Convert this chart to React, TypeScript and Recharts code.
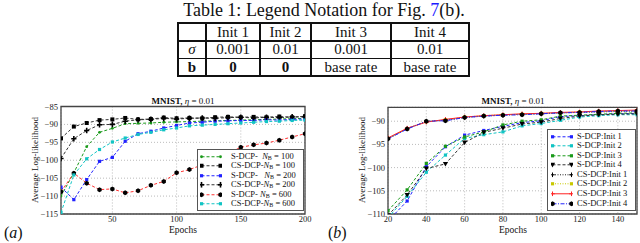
import React from "react";
import { CartesianGrid, Line, LineChart, ReferenceArea, XAxis, YAxis } from "recharts";

const FONT = '"Liberation Serif", "DejaVu Serif", serif';

// ---- table ----
const tableHeads = ["", "Init 1", "Init 2", "Init 3", "Init 4"];
const sigmaRow = ["0.001", "0.01", "0.001", "0.01"];
const biasRow = ["0", "0", "base rate", "base rate"];

// ---- panel (a) ----
const epochsA = [10, 20, 30, 40, 50, 60, 70, 80, 90, 100, 110, 120, 130, 140, 150, 160, 170, 180, 190, 200];
const sdcp100 = [-110.0, -103.5, -96.2, -92.2, -91.1, -89.8, -89.7, -89.6, -89.4, -89.3, -89.2, -89.1, -89.0, -88.9, -88.8, -88.7, -88.6, -88.5, -88.4, -88.3];
const csdcp100 = [-93.9, -90.6, -89.6, -88.8, -88.6, -88.2, -88.6, -88.5, -88.1, -88.3, -88.2, -88.3, -88.0, -87.9, -88.0, -87.9, -88.0, -87.8, -88.0, -87.7];
const sdcp200 = [-107.5, -111.0, -105.4, -100.3, -99.2, -94.7, -92.6, -91.9, -91.0, -90.3, -89.6, -89.4, -89.1, -89.0, -88.9, -88.9, -88.7, -88.8, -88.6, -88.5];
const csdcp200 = [-99.5, -94.0, -91.7, -90.1, -90.0, -89.1, -88.7, -88.6, -88.3, -88.5, -88.3, -88.2, -88.3, -88.1, -88.0, -88.2, -88.0, -88.1, -87.9, -87.9];
const sdcp600 = [-108.8, -103.6, -106.4, -108.2, -108.0, -109.1, -108.5, -107.0, -105.9, -103.5, -102.6, -101.3, -99.8, -98.0, -96.4, -95.7, -95.2, -94.4, -93.5, -92.6];
const csdcp600 = [-114.6, -104.1, -99.6, -97.0, -94.9, -93.8, -92.8, -92.2, -91.5, -91.0, -90.4, -90.2, -90.0, -89.8, -89.6, -89.4, -89.2, -89.1, -88.9, -88.8];
const xTicksA = [50, 100, 150, 200];
const yTicksA = [-115, -110, -105, -100, -95, -90, -85];

// ---- panel (b) ----
const epochsB = [20, 30, 40, 50, 60, 70, 80, 90, 100, 110, 120, 130, 140, 150];
const sInit1 = [-111.5, -107.2, -99.8, -95.5, -93.0, -92.0, -91.1, -90.3, -89.9, -89.0, -88.8, -88.6, -88.4, -88.3];
const sInit2 = [-110.8, -106.2, -101.0, -97.3, -93.7, -92.9, -92.3, -91.0, -90.5, -89.8, -89.1, -88.8, -88.6, -88.6];
const sInit3 = [-109.3, -104.8, -99.1, -95.4, -93.4, -92.3, -90.8, -90.0, -89.7, -88.9, -88.7, -88.5, -88.3, -88.2];
const sInit4 = [-110.3, -105.9, -100.2, -99.2, -94.6, -92.4, -91.5, -90.6, -90.2, -89.4, -88.9, -88.6, -88.5, -88.4];
const csInit1 = [-93.8, -91.6, -90.0, -89.8, -89.2, -88.9, -88.7, -88.5, -88.4, -88.2, -88.1, -88.0, -87.9, -87.8];
const csInit2 = [-93.7, -91.6, -90.1, -89.7, -89.1, -88.8, -88.6, -88.5, -88.3, -88.2, -88.0, -87.9, -87.8, -87.7];
const csInit3 = [-93.6, -91.5, -90.2, -89.6, -89.1, -88.8, -88.6, -88.4, -88.3, -88.1, -88.0, -87.8, -87.7, -87.6];
const csInit4 = [-93.8, -91.7, -90.0, -89.9, -89.2, -88.9, -88.7, -88.6, -88.4, -88.2, -88.1, -87.9, -87.8, -87.8];
const xTicksB = [20, 40, 60, 80, 100, 120, 140];
const yTicksB = [-110, -105, -100, -95, -90];

type Marker = "plus" | "bigplus" | "square" | "smallsq" | "dot" | "hex" | "tri";

type Series = {
  key: string;
  label: React.ReactNode;
  values: number[];
  color: string;
  dash?: string;
  marker: Marker;
  markerColor: string;
};

const nb = (prefix: string, n: number) => (
  <>
    {prefix}
    <i>N</i>
    <sub style={{ fontSize: 6, verticalAlign: "-1px", lineHeight: 0 }}>B</sub> = {n}
  </>
);

const seriesA: Series[] = [
  { key: "s100", label: nb("S-DCP-\u00a0\u00a0", 100), values: sdcp100, color: "#1a9a1a", dash: "3 2", marker: "dot", markerColor: "#1a9a1a" },
  { key: "cs100", label: nb("CS-DCP-", 100), values: csdcp100, color: "#333", dash: "3 2", marker: "square", markerColor: "#000" },
  { key: "s200", label: nb("S-DCP-\u00a0\u00a0\u00a0", 200), values: sdcp200, color: "#2222ff", dash: "3 2", marker: "smallsq", markerColor: "#2222ff" },
  { key: "cs200", label: nb("CS-DCP-", 200), values: csdcp200, color: "#333", dash: "3 2", marker: "bigplus", markerColor: "#000" },
  { key: "s600", label: nb("S-DCP-\u00a0", 600), values: sdcp600, color: "#ff3333", dash: "3 2", marker: "hex", markerColor: "#000" },
  { key: "cs600", label: nb("CS-DCP-", 600), values: csdcp600, color: "#11c4c4", dash: "3 2", marker: "smallsq", markerColor: "#11c4c4" },
];

const seriesB: Series[] = [
  { key: "s1", label: "S-DCP:Init 1", values: sInit1, color: "#2222ff", dash: "3 2", marker: "smallsq", markerColor: "#2222ff" },
  { key: "s2", label: "S-DCP:Init 2", values: sInit2, color: "#11c4c4", dash: "3 2", marker: "smallsq", markerColor: "#11c4c4" },
  { key: "s3", label: "S-DCP:Init 3", values: sInit3, color: "#1a9a1a", dash: "3 2", marker: "smallsq", markerColor: "#1a9a1a" },
  { key: "s4", label: "S-DCP:Init 4", values: sInit4, color: "#333", dash: "3 2", marker: "tri", markerColor: "#000" },
  { key: "c1", label: "CS-DCP:Init 1", values: csInit1, color: "#222", dash: "1 1.5", marker: "plus", markerColor: "#000" },
  { key: "c2", label: "CS-DCP:Init 2", values: csInit2, color: "#c8c800", dash: "1 1.5", marker: "smallsq", markerColor: "#c8c800" },
  { key: "c3", label: "CS-DCP:Init 3", values: csInit3, color: "#ff2222", marker: "plus", markerColor: "#ff2222" },
  { key: "c4", label: "CS-DCP:Init 4", values: csInit4, color: "#2222ff", dash: "4 1.5 1 1.5", marker: "hex", markerColor: "#000" },
];

function buildRows(epochs: number[], series: Series[]) {
  return epochs.map((ep, i) => {
    const row: Record<string, number> = { ep };
    series.forEach((s) => {
      row[s.key] = s.values[i];
    });
    return row;
  });
}

function markerShape(m: Marker, cx: number, cy: number, color: string, key?: string) {
  switch (m) {
    case "plus":
      return (
        <g key={key} stroke={color} strokeWidth={1}>
          <line x1={cx - 2.3} x2={cx + 2.3} y1={cy} y2={cy} />
          <line x1={cx} x2={cx} y1={cy - 2.3} y2={cy + 2.3} />
        </g>
      );
    case "bigplus":
      return (
        <g key={key} stroke={color} strokeWidth={1.6}>
          <line x1={cx - 2.6} x2={cx + 2.6} y1={cy} y2={cy} />
          <line x1={cx} x2={cx} y1={cy - 2.8} y2={cy + 2.8} />
        </g>
      );
    case "square":
      return <rect key={key} x={cx - 2} y={cy - 2} width={4} height={4} fill={color} />;
    case "smallsq":
      return <rect key={key} x={cx - 1.6} y={cy - 1.6} width={3.2} height={3.2} fill={color} />;
    case "dot":
      return <circle key={key} cx={cx} cy={cy} r={1.4} fill={color} />;
    case "hex": {
      const pts = [0, 1, 2, 3, 4, 5]
        .map((k) => {
          const a = (Math.PI / 3) * k + Math.PI / 6;
          return `${cx + 2.5 * Math.cos(a)},${cy + 2.5 * Math.sin(a)}`;
        })
        .join(" ");
      return <polygon key={key} points={pts} fill={color} />;
    }
    case "tri":
      return <polygon key={key} points={`${cx - 2.6},${cy - 2} ${cx + 2.6},${cy - 2} ${cx},${cy + 2.6}`} fill={color} />;
  }
  return <g key={key} />;
}

const minus = (v: number) => String(v).replace("-", "\u2212");
const tickStyle = { fontSize: 8.5, fill: "#222", fontFamily: FONT };

type PanelProps = {
  left: number;
  epochs: number[];
  series: Series[];
  xDomain: [number, number];
  xTicks: number[];
  yDomain: [number, number];
  yTicks: number[];
  yAxisWidth: number;
  marginTop: number;
  marginRight: number;
};

function Panel({ left, epochs, series, xDomain, xTicks, yDomain, yTicks, yAxisWidth, marginTop, marginRight }: PanelProps) {
  const data = buildRows(epochs, series);
  return (
    <div style={{ position: "absolute", left, top: 95 }}>
      <LineChart width={320} height={148} data={data} margin={{ top: marginTop, right: marginRight, bottom: 0, left: 0 }}>
        <CartesianGrid stroke="#aaa" strokeDasharray="1 2" strokeWidth={0.8} />
        <XAxis
          type="number"
          dataKey="ep"
          domain={xDomain}
          ticks={xTicks}
          allowDataOverflow
          interval={0}
          height={29}
          axisLine={false}
          tickLine={false}
          tickSize={0}
          tickMargin={2}
          tick={tickStyle}
        />
        <YAxis
          type="number"
          domain={yDomain}
          ticks={yTicks}
          allowDataOverflow
          interval={0}
          width={yAxisWidth}
          axisLine={false}
          tickLine={false}
          tickSize={0}
          tickMargin={3}
          tick={tickStyle}
          tickFormatter={minus}
        />
        {series.map((s) => (
          <Line
            key={s.key}
            type="linear"
            dataKey={s.key}
            stroke={s.color}
            strokeWidth={1}
            strokeDasharray={s.dash}
            dot={(p: any) =>
              p.cx == null ? <g key={`${s.key}-${p.index}`} /> : markerShape(s.marker, p.cx, p.cy, s.markerColor, `${s.key}-${p.index}`)
            }
            activeDot={false}
            isAnimationActive={false}
          />
        ))}
        <ReferenceArea x1={xDomain[0]} x2={xDomain[1]} y1={yDomain[0]} y2={yDomain[1]} fill="none" stroke="#444" strokeWidth={1.3} />
      </LineChart>
    </div>
  );
}

function LegendBox({ series, left, top, width, height, rowH, padTop, sampleX, textX, fontSize }: {
  series: Series[]; left: number; top: number; width: number; height: number; rowH: number; padTop: number; sampleX: number; textX: number; fontSize: number;
}) {
  return (
    <div
      style={{
        position: "absolute",
        left,
        top,
        width,
        height,
        boxSizing: "border-box",
        border: "1.3px solid #555",
        background: "#fff",
        paddingTop: padTop,
        fontFamily: FONT,
        fontSize,
        color: "#111",
        overflow: "hidden",
      }}
    >
      {series.map((s) => (
        <div key={s.key} style={{ position: "relative", height: rowH, lineHeight: `${rowH}px`, whiteSpace: "nowrap" }}>
          <svg width={22} height={rowH} style={{ position: "absolute", left: sampleX, top: 0 }}>
            <line x1={1.5} x2={20.5} y1={rowH / 2} y2={rowH / 2} stroke={s.color} strokeWidth={1} strokeDasharray={s.dash} />
            {markerShape(s.marker, 1.5, rowH / 2, s.markerColor, "a")}
            {markerShape(s.marker, 20.5, rowH / 2, s.markerColor, "b")}
          </svg>
          <span style={{ position: "absolute", left: textX, top: 0 }}>{s.label}</span>
        </div>
      ))}
    </div>
  );
}

const abs = (extra: React.CSSProperties): React.CSSProperties => ({ position: "absolute", fontFamily: FONT, color: "#111", whiteSpace: "nowrap", ...extra });

function ChartTitle({ cx }: { cx: number }) {
  return (
    <div style={abs({ left: cx, top: 96, fontSize: 9, lineHeight: "11px", transform: "translateX(-50%)" })}>
      <b>MNIST,</b> <i>η</i> = 0.01
    </div>
  );
}

function YLabel({ cx }: { cx: number }) {
  return (
    <div style={abs({ left: cx, top: 160, fontSize: 9, lineHeight: "10px", transform: "translate(-50%, -50%) rotate(-90deg)" })}>
      Average Log-likelihood
    </div>
  );
}

function XLabel({ cx }: { cx: number }) {
  return <div style={abs({ left: cx, top: 225, fontSize: 9.5, lineHeight: "10px", transform: "translateX(-50%)" })}>Epochs</div>;
}

// table grid lines (page pixels)
const colEdges = [178, 206, 260, 311, 391, 469];
const rowEdges = [23, 41, 58.5, 76];

function Table() {
  const rows: React.ReactNode[][] = [
    tableHeads,
    [<i key="s">σ</i>, ...sigmaRow],
    [<b key="b">b</b>, ...biasRow.map((v, i) => (v === "0" ? <b key={i}>{v}</b> : v))],
  ];
  const line = "#111";
  return (
    <>
      {colEdges.map((x, i) => (
        <div key={`v${i}`} style={{ position: "absolute", left: x - 0.7, top: rowEdges[0] - 0.7, width: 1.4, height: rowEdges[3] - rowEdges[0] + 1.4, background: line }} />
      ))}
      {rowEdges.map((y, i) => (
        <div key={`h${i}`} style={{ position: "absolute", left: colEdges[0] - 0.7, top: y - 0.7, width: colEdges[5] - colEdges[0] + 1.4, height: 1.4, background: line }} />
      ))}
      {rows.map((r, ri) =>
        r.map((c, ci) => (
          <div
            key={`c${ri}-${ci}`}
            style={abs({
              left: colEdges[ci],
              width: colEdges[ci + 1] - colEdges[ci],
              top: rowEdges[ri],
              height: rowEdges[ri + 1] - rowEdges[ri],
              lineHeight: `${rowEdges[ri + 1] - rowEdges[ri]}px`,
              textAlign: "center",
              fontSize: 15,
            })}
          >
            {c}
          </div>
        ))
      )}
    </>
  );
}

export default function App() {
  return (
    <div style={{ position: "absolute", left: 0, top: 0, width: 640, height: 243, background: "#fff", overflow: "hidden" }}>
      <div style={abs({ left: 324, top: 0, fontSize: 18, lineHeight: "21px", transform: "translateX(-50%)" })}>
        Table 1: Legend Notation for Fig. <span style={{ color: "#1a1aff" }}>7</span>(b).
      </div>
      <Table />

      <Panel
        left={0}
        epochs={epochsA}
        series={seriesA}
        xDomain={[10, 200]}
        xTicks={xTicksA}
        yDomain={[-115, -85]}
        yTicks={yTicksA}
        yAxisWidth={61}
        marginTop={11.5}
        marginRight={15}
      />
      <Panel
        left={320}
        epochs={epochsB}
        series={seriesB}
        xDomain={[20, 150]}
        xTicks={xTicksB}
        yDomain={[-110, -87]}
        yTicks={yTicksB}
        yAxisWidth={68}
        marginTop={12.3}
        marginRight={3}
      />

      <LegendBox series={seriesA} left={197} top={149} width={107} height={62} rowH={9.5} padTop={1.5} sampleX={2} textX={33} fontSize={8.5} />
      <LegendBox series={seriesB} left={547} top={129} width={89} height={82} rowH={9.57} padTop={1.6} sampleX={3} textX={29} fontSize={8.5} />

      <ChartTitle cx={183} />
      <ChartTitle cx={513} />
      <YLabel cx={35} />
      <YLabel cx={362} />
      <XLabel cx={183} />
      <XLabel cx={513} />

      <div style={abs({ left: 4, top: 224, fontSize: 16, lineHeight: "17px" })}>
        (<i>a</i>)
      </div>
      <div style={abs({ left: 328, top: 224, fontSize: 16, lineHeight: "17px" })}>
        (<i>b</i>)
      </div>
    </div>
  );
}
